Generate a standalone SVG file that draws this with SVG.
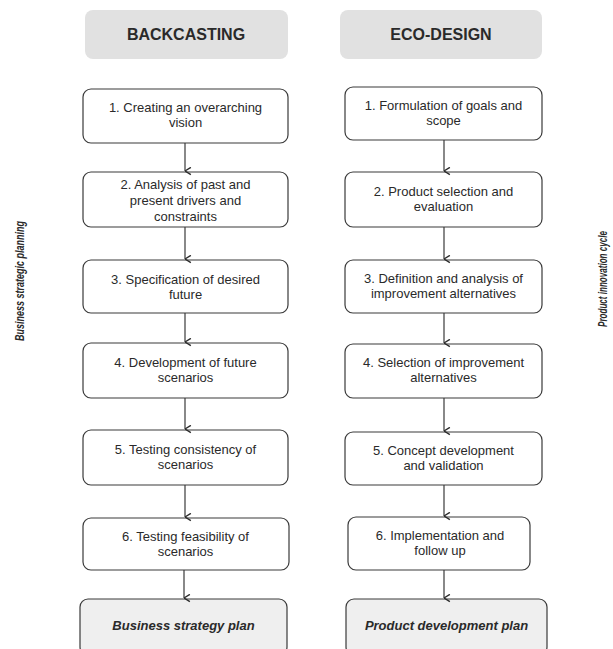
<svg xmlns="http://www.w3.org/2000/svg" width="613" height="649" viewBox="0 0 613 649">
<style>
.hdr{fill:#e1e1e1;stroke:none}
.box{fill:#ffffff;stroke:#3a3a3a;stroke-width:1.2}
.fin{fill:#efefef;stroke:#3a3a3a;stroke-width:1.2}
.t{font-family:"Liberation Sans",Arial,sans-serif;font-size:13px;fill:#2a2a2a;text-anchor:middle}
.h{font-family:"Liberation Sans",Arial,sans-serif;font-size:16px;font-weight:bold;fill:#2a2a2a;text-anchor:middle}
.f{font-family:"Liberation Sans",Arial,sans-serif;font-size:13px;font-weight:bold;font-style:italic;fill:#2a2a2a;text-anchor:middle}
.side{font-family:"Liberation Sans",Arial,sans-serif;font-size:13.5px;font-weight:bold;font-style:italic;fill:#2a2a2a;text-anchor:middle}
.c{stroke:#3a3a3a;stroke-width:1.2;fill:none;marker-end:url(#ah)}
</style>
<defs>
<marker id="ah" viewBox="0 0 10 10" refX="5" refY="9.5" markerWidth="9" markerHeight="9" markerUnits="userSpaceOnUse" orient="auto">
<path d="M1,3 L5,9.5 L9,3" fill="none" stroke="#2a2a2a" stroke-width="1.6"/>
</marker>
</defs>
<rect width="613" height="649" fill="#ffffff"/>

<g id="hdr-backcasting"><rect class="hdr" x="85" y="10" width="203" height="49" rx="8"/><text class="h" x="186" y="40">BACKCASTING</text></g>
<g id="hdr-ecodesign"><rect class="hdr" x="340" y="10" width="202" height="49" rx="8"/><text class="h" x="441" y="40">ECO-DESIGN</text></g>

<g id="side-left"><text class="side" transform="translate(24,281) rotate(-90)" textLength="120" lengthAdjust="spacingAndGlyphs">Business strategic planning</text></g>
<g id="side-right"><text class="side" transform="translate(607,279) rotate(-90)" textLength="96" lengthAdjust="spacingAndGlyphs">Product innovation cycle</text></g>

<g id="b1"><rect class="box" x="83" y="89" width="205" height="54" rx="8"/><text class="t" x="185.5" y="112">1. Creating an overarching</text><text class="t" x="185.5" y="127">vision</text></g>
<g id="b2"><rect class="box" x="83" y="172" width="205" height="55" rx="8"/><text class="t" x="185.5" y="189">2. Analysis of past and</text><text class="t" x="185.5" y="205">present drivers and</text><text class="t" x="185.5" y="221">constraints</text></g>
<g id="b3"><rect class="box" x="83" y="260" width="205" height="53" rx="8"/><text class="t" x="185.5" y="284">3. Specification of desired</text><text class="t" x="185.5" y="299">future</text></g>
<g id="b4"><rect class="box" x="83" y="343" width="205" height="55" rx="8"/><text class="t" x="185.5" y="367">4. Development of future</text><text class="t" x="185.5" y="382">scenarios</text></g>
<g id="b5"><rect class="box" x="83" y="430" width="205" height="55" rx="8"/><text class="t" x="185.5" y="454">5. Testing consistency of</text><text class="t" x="185.5" y="469">scenarios</text></g>
<g id="b6"><rect class="box" x="83" y="518" width="206" height="52" rx="8"/><text class="t" x="185.5" y="541">6. Testing feasibility of</text><text class="t" x="185.5" y="556">scenarios</text></g>
<g id="bfin"><rect class="fin" x="80" y="599" width="207" height="56" rx="8"/><text class="f" x="183.5" y="630">Business strategy plan</text></g>

<g id="e1"><rect class="box" x="345" y="87" width="197" height="53" rx="8"/><text class="t" x="443.5" y="110">1. Formulation of goals and</text><text class="t" x="443.5" y="125">scope</text></g>
<g id="e2"><rect class="box" x="345" y="172" width="197" height="55" rx="8"/><text class="t" x="443.5" y="196">2. Product selection and</text><text class="t" x="443.5" y="211">evaluation</text></g>
<g id="e3"><rect class="box" x="345" y="260" width="197" height="53" rx="8"/><text class="t" x="443.5" y="283">3. Definition and analysis of</text><text class="t" x="443.5" y="298">improvement alternatives</text></g>
<g id="e4"><rect class="box" x="345" y="344" width="197" height="54" rx="8"/><text class="t" x="443.5" y="367">4. Selection of improvement</text><text class="t" x="443.5" y="382">alternatives</text></g>
<g id="e5"><rect class="box" x="345" y="432" width="197" height="53" rx="8"/><text class="t" x="443.5" y="455">5. Concept development</text><text class="t" x="443.5" y="470">and validation</text></g>
<g id="e6"><rect class="box" x="348" y="517" width="182" height="53" rx="8"/><text class="t" x="440" y="540">6. Implementation and</text><text class="t" x="440" y="555">follow up</text></g>
<g id="efin"><rect class="fin" x="346" y="599" width="201" height="56" rx="8"/><text class="f" x="446.5" y="630">Product development plan</text></g>

<g id="connectors">
<line class="c" x1="185" y1="143" x2="185" y2="171"/>
<line class="c" x1="185" y1="227" x2="185" y2="259"/>
<line class="c" x1="185" y1="313" x2="185" y2="342"/>
<line class="c" x1="185" y1="398" x2="185" y2="429"/>
<line class="c" x1="185" y1="485" x2="185" y2="517"/>
<line class="c" x1="184" y1="570" x2="184" y2="598"/>
<line class="c" x1="444" y1="140" x2="444" y2="171"/>
<line class="c" x1="444" y1="227" x2="444" y2="259"/>
<line class="c" x1="444" y1="313" x2="444" y2="343"/>
<line class="c" x1="444" y1="398" x2="444" y2="431"/>
<line class="c" x1="444" y1="485" x2="444" y2="516"/>
<line class="c" x1="444" y1="570" x2="444" y2="598"/>
</g>
</svg>
